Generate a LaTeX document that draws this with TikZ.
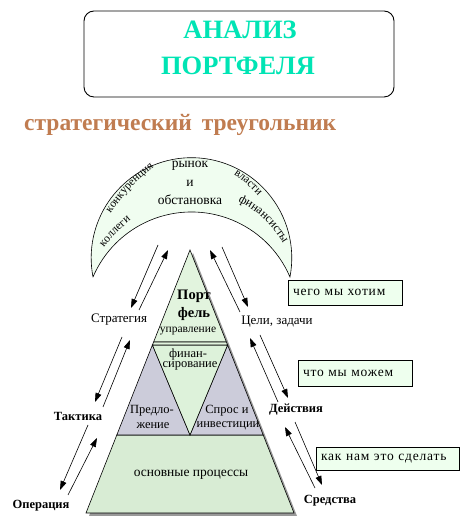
\documentclass[tikz,border=0pt]{standalone}
\usepackage{fontspec}
\setmainfont{Liberation Serif}
\usetikzlibrary{arrows.meta,decorations.text}
\definecolor{titlec}{RGB}{0,228,180}
\definecolor{subc}{RGB}{192,124,80}
\definecolor{crescc}{RGB}{240,253,240}
\definecolor{topc}{RGB}{226,244,222}
\definecolor{midc}{RGB}{221,242,218}
\definecolor{grayc}{RGB}{204,204,218}
\definecolor{botc}{RGB}{216,236,212}
\definecolor{boxc}{RGB}{238,255,238}
\begin{document}
\begin{tikzpicture}[x=1pt,y=1pt,
  arr/.style={-{Triangle[length=9pt,width=6pt]}, line width=0.6pt},
  lbl/.style={font=\fontsize{13}{15}\selectfont, inner sep=0pt},
  blbl/.style={font=\bfseries\fontsize{12.5}{15}\selectfont, inner sep=0pt},
  ptxt/.style={font=\fontsize{12.5}{14}\selectfont, inner sep=0pt},
  note/.style={draw, line width=0.8pt, fill=boxc, inner xsep=5pt, inner ysep=0pt, align=left, font=\fontsize{13.5}{15}\selectfont\addfontfeatures{LetterSpace=6}},
  curv/.style={decorate, decoration={text along path, text align=center}}
]
\useasboundingbox (0,0) rectangle (473,521);
% title
\draw[line width=0.9pt, rounded corners=10pt] (84,510) rectangle (394,424);
\node[font=\bfseries\fontsize{26.5}{28}\selectfont, text=titlec, inner sep=0pt] (t1) at (240,491.5) {АНАЛИЗ};
\node[font=\bfseries\fontsize{26.5}{28}\selectfont, text=titlec, inner sep=0pt] (t2) at (238,455) {ПОРТФЕЛЯ};
\node[font=\bfseries\fontsize{23.5}{26}\selectfont, text=subc, anchor=west, inner sep=0pt] (sub) at (24,396) {стратегический\hspace{10pt}треугольник};

% crescent
\draw[fill=crescc, line width=0.6pt] (93,244) arc[start angle=190.92, end angle=-10.92, radius=100.3]
   arc[start angle=23.14, end angle=156.86, radius=107.1] -- cycle;
\node[lbl, font=\fontsize{13.5}{15}\selectfont] (c1) at (190,355) {рынок};
\node[lbl, font=\fontsize{13.5}{15}\selectfont] (c2) at (190,338) {и};
\node[lbl, font=\fontsize{13.5}{15}\selectfont] (c3) at (190,321) {обстановка};
\path[curv, decoration={text={|\fontsize{11.5}{13}\selectfont|конкуренция}}] (104,297) to[bend left=12] (164,361);
\path[curv, decoration={text={|\fontsize{11.5}{13}\selectfont|коллеги}}] (100,268) to[bend left=8] (136,305);
\path[curv, decoration={text={|\fontsize{11.5}{13}\selectfont|власти}}] (229,350) to[bend left=8] (262,321);
\path[curv, decoration={text={|\fontsize{12}{13}\selectfont|финансисты}}] (227,325) to[bend left=20] (289,267);

% pyramid shadow
\fill[gray!80] (193,268) -- (297,5) -- (89,5) -- cycle;
% pyramid parts
\filldraw[fill=botc, line width=0.6pt] (116.8,86) -- (263.2,86) -- (294,8) -- (86,8) -- cycle;
\filldraw[fill=grayc, line width=0.6pt] (152.4,176) -- (190,86) -- (116.8,86) -- cycle;
\filldraw[fill=grayc, line width=0.6pt] (227.6,176) -- (263.2,86) -- (190,86) -- cycle;
\filldraw[fill=midc, line width=0.6pt] (152.4,176) -- (227.6,176) -- (190,86) -- cycle;
\filldraw[fill=topc, line width=0.6pt] (190,271) -- (226.4,179) -- (153.6,179) -- cycle;
\filldraw[fill=topc, line width=0.6pt] (153.6,179) -- (226.4,179) -- (227.6,176) -- (152.4,176) -- cycle;

\node[font=\bfseries\fontsize{14.5}{16}\selectfont, inner sep=0pt] (p1) at (194,225) {Порт};
\node[font=\bfseries\fontsize{14.5}{16}\selectfont, inner sep=0pt] (p2) at (194,207) {фель};
\node[font=\fontsize{11.5}{13}\selectfont, inner sep=0pt] (p3) at (188,190) {управление};
\node[ptxt] (f1) at (188,167) {финан-};
\node[ptxt] (f2) at (190,155) {сирование};
\node[ptxt] (g1) at (152,110) {Предло-};
\node[ptxt] (g2) at (153,95) {жение};
\node[ptxt] (h1) at (227,110) {Спрос и};
\node[ptxt] (h2) at (228,95) {инвестиции};
\node[ptxt, font=\fontsize{13.5}{15}\selectfont] (o1) at (191,46) {основные процессы};

% side labels
\node[lbl] (strat) at (119,201) {Стратегия};
\node[lbl] (goal) at (277,199) {Цели, задачи};
\node[blbl] (takt) at (78,105) {Тактика};
\node[blbl] (oper) at (41,15) {Операция};
\node[blbl] (deist) at (296,111) {Действия};
\node[blbl] (sredst) at (330,20) {Средства};

% notes
\node[note, minimum width=114pt, minimum height=25pt, text width=104pt] (n1) at (345,228.5) {чего мы хотим};
\node[note, minimum width=114pt, minimum height=26pt, text width=104pt] (n2) at (355,148) {что мы можем};
\node[note, minimum width=143pt, minimum height=23pt, text width=133pt] (n3) at (387.5,62.5) {как нам это сделать};

% arrow end points
\coordinate (la1) at (158,276); \coordinate (lb1) at (131,213);
\coordinate (la2) at (139,211); \coordinate (lb2) at (168,271);
\coordinate (la3) at (122,184); \coordinate (lb3) at (95,119);
\coordinate (la4) at (103,114); \coordinate (lb4) at (130,181);
\coordinate (la5) at (88,96);   \coordinate (lb5) at (60,31);
\coordinate (la6) at (68,26);   \coordinate (lb6) at (97,83);
\coordinate (ra1) at (240,209); \coordinate (rb1) at (210,271);
\coordinate (ra2) at (222,274); \coordinate (rb2) at (248,214);
\coordinate (ra3) at (278,119); \coordinate (rb3) at (250,183);
\coordinate (ra4) at (260,186); \coordinate (rb4) at (288,123);
\coordinate (ra5) at (315,33);  \coordinate (rb5) at (285,94);
\coordinate (ra6) at (295,99);  \coordinate (rb6) at (322,36);
\foreach \i in {1,...,6} {
  \draw[arr] (la\i) -- (lb\i);
  \draw[arr] (ra\i) -- (rb\i);
}
\end{tikzpicture}
\end{document}
